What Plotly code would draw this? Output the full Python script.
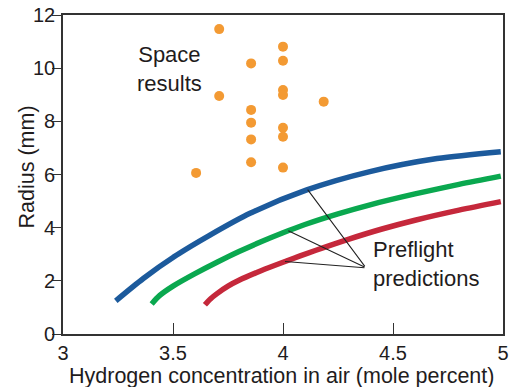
import numpy as np
import plotly.graph_objects as go

# Space results (scatter)
space_x = [3.71, 3.855, 3.71, 3.855, 3.855, 3.855, 3.855, 3.605,
           4.0, 4.0, 4.0, 4.0, 4.185, 4.0, 4.0, 4.0]
space_y = [11.47, 10.18, 8.95, 8.43, 7.95, 7.32, 6.46, 6.06,
           10.81, 10.28, 9.18, 8.99, 8.74, 7.76, 7.42, 6.26]

# Preflight predictions (three curves)
blue_x = [3.24, 3.365, 3.517, 3.668, 3.85, 4.108, 4.395, 4.7, 4.99]
blue_y = [1.25, 2.09, 2.97, 3.72, 4.54, 5.42, 6.11, 6.6, 6.86]

green_x = [3.403, 3.44, 3.5, 3.6, 3.7, 3.8, 3.9, 4.0, 4.1, 4.25, 4.4, 4.6, 4.8, 4.99]
green_y = [1.13, 1.45, 1.80, 2.27, 2.70, 3.10, 3.47, 3.81, 4.12, 4.52, 4.87, 5.27, 5.63, 5.94]

red_x = [3.645, 3.67, 3.70, 3.75, 3.8, 3.9, 4.0, 4.15, 4.3, 4.45, 4.6, 4.8, 4.99]
red_y = [1.10, 1.32, 1.52, 1.80, 2.02, 2.38, 2.70, 3.15, 3.57, 3.95, 4.28, 4.66, 4.98]

x_ticks = [3, 3.5, 4, 4.5, 5]
x_tick_labels = ["3", "3.5", "4", "4.5", "5"]
y_ticks = [0, 2, 4, 6, 8, 10, 12]
y_tick_labels = ["0", "2", "4", "6", "8", "10", "12"]

FONT = "Liberation Sans, Arial, Helvetica, sans-serif"
TXT = "#1f1c1d"

fig = go.Figure()
for xs, ys, col in [(blue_x, blue_y, "#1c5a9c"),
                    (green_x, green_y, "#0aa84f"),
                    (red_x, red_y, "#c5283b")]:
    fig.add_trace(go.Scatter(x=xs, y=ys, mode="lines",
                             line=dict(color=col, width=5.5, shape="spline", smoothing=0.8),
                             hoverinfo="skip", showlegend=False))

fig.add_trace(go.Scatter(x=space_x, y=space_y, mode="markers",
                         marker=dict(color="#f39a33", size=10, line=dict(width=0)),
                         showlegend=False))

annotations = [
    dict(x=3.486, y=9.97, xref="x", yref="y", text="Space<br>results",
         showarrow=False, align="center", xanchor="center", yanchor="middle",
         font=dict(family=FONT, size=22, color=TXT)),
    dict(x=4.4, y=2.62, xref="x", yref="y", text="Preflight<br>predictions",
         showarrow=False, align="left", xanchor="left", yanchor="middle",
         font=dict(family=FONT, size=22, color=TXT)),
    # axis titles
    dict(x=0.4966, y=-0.132, xref="paper", yref="paper",
         text="Hydrogen concentration in air (mole percent)",
         showarrow=False, xanchor="center", yanchor="middle",
         font=dict(family=FONT, size=21.5, color=TXT)),
    dict(x=-0.082, y=0.525, xref="paper", yref="paper", text="Radius (mm)",
         showarrow=False, textangle=-90, xanchor="center", yanchor="middle",
         font=dict(family=FONT, size=21.5, color=TXT)),
]
tail_x, tail_y = 4.377, 2.49
for xs, ys, px in [(blue_x, blue_y, 4.112), (green_x, green_y, 4.024), (red_x, red_y, 4.009)]:
    py = float(np.interp(px, xs, ys))
    annotations.append(dict(x=px, y=py, xref="x", yref="y", ax=tail_x, ay=tail_y,
                            axref="x", ayref="y", text="", showarrow=True,
                            arrowhead=0, arrowwidth=1.1, arrowcolor="#222222",
                            standoff=0, startstandoff=0))

fig.update_layout(
    width=517, height=387,
    margin=dict(l=63, r=14, t=15, b=53, autoexpand=False),
    paper_bgcolor="white", plot_bgcolor="white",
    font=dict(family=FONT, size=20, color=TXT),
    annotations=annotations,
    showlegend=False,
)
fig.update_xaxes(range=[3, 5], tickvals=x_ticks, ticktext=x_tick_labels,
                 ticks="inside", ticklen=11, tickwidth=1.2, tickcolor="#333333",
                 showline=True, linecolor="#333333", linewidth=1.6, mirror=True,
                 showgrid=False, zeroline=False, automargin=False,
                 tickfont=dict(family=FONT, size=20, color=TXT))
fig.update_yaxes(range=[0, 12], tickvals=y_ticks, ticktext=y_tick_labels,
                 ticks="outside", ticklen=9, tickwidth=1.2, tickcolor="#333333",
                 showline=True, linecolor="#333333", linewidth=1.6, mirror=True,
                 showgrid=False, zeroline=False, automargin=False,
                 ticklabelstandoff=-7,
                 tickfont=dict(family=FONT, size=20, color=TXT))

fig.write_html("out.html", config={"displayModeBar": False},
               post_script="document.body.style.margin='0px';")
